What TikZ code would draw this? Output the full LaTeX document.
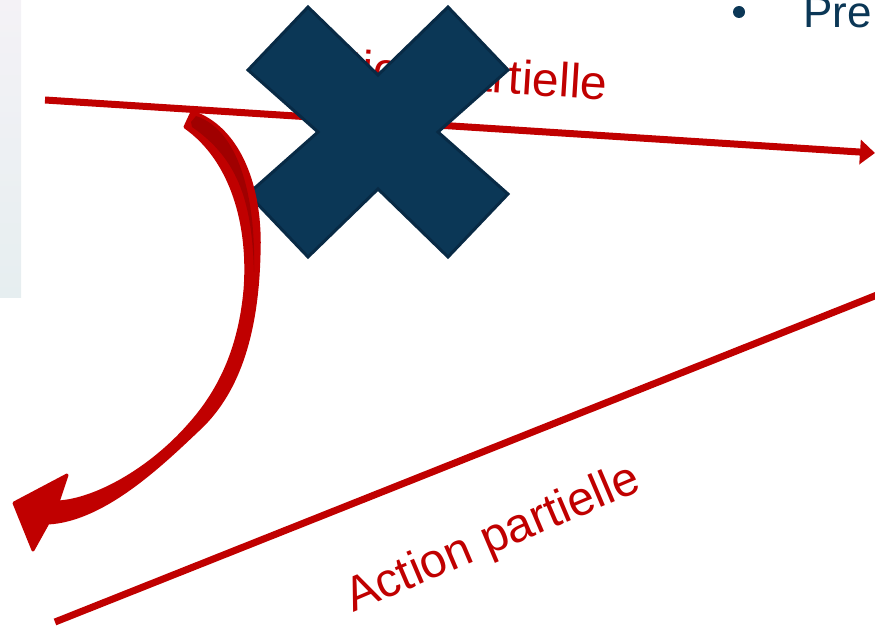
\documentclass[tikz,border=0pt]{standalone}
\usepackage{fontspec}
\setmainfont{Liberation Sans}
\usetikzlibrary{arrows.meta}
\definecolor{ared}{HTML}{C00000}
\definecolor{adark}{HTML}{A00000}
\definecolor{xblue}{HTML}{0B3756}
\definecolor{xedge}{HTML}{082A45}
\definecolor{ptop}{HTML}{F4F2F6}
\definecolor{pbot}{HTML}{E6EEF0}
\tikzset{
  redline/.style={draw=ared, line width=7pt},
  lbl/.style={text=ared, inner sep=0pt, font=\fontsize{48}{57}\selectfont},
  xshape/.style={fill=xblue, draw=xedge, line width=3pt, line join=miter},
  curvy/.style={fill=ared, draw=ared, line width=3pt, line join=round},
}
\begin{document}
\begin{tikzpicture}[x=1pt,y=-1pt]
\useasboundingbox (0,0) rectangle (875,626);
% faded panel on the left
\shade[top color=ptop,bottom color=pbot] (0,0) rectangle (21,297);
% bullet and text at top right
\node[circle, fill=xblue, minimum size=12pt, inner sep=0pt] (bullet) at (739,12) {};
\node[anchor=base west, inner sep=0pt, text=xblue, font=\fontsize{44}{52}\selectfont] (pre) at (803,28) {Pre};
% top line with arrow
\coordinate (t1) at (45,100);
\coordinate (t2) at (875,153);
\draw[redline, -{Triangle[length=15pt,width=24pt]}] (t1) -- (t2);
\node[lbl, anchor=base west, rotate=-3.6] (toptext) at (292,80) {Action partielle};
% bottom line
\coordinate (b1) at (55,622);
\coordinate (b2) at (877,295);
\draw[redline] (b1) -- (b2);
\node[lbl, anchor=base west, rotate=23] (bottext) at (353,613) {Action partielle};
% the cross
\draw[xshape] (308,7) -- (378,75) -- (448,7) -- (508,70) -- (438,132) -- (508,194)
  -- (448,257) -- (378,189) -- (308,257) -- (248,194) -- (318,132) -- (248,70) -- cycle;
% curved block arrow
\path[curvy] (192,112) .. controls (238,127) and (262,185) .. (259,255)
  .. controls (257,330) and (240,390) .. (200,428)
  .. controls (164,462) and (105,520) .. (48,523)
  -- (33,550) -- (14,503) -- (67,475) -- (58,502)
  .. controls (95,500) and (150,470) .. (190,424)
  .. controls (222,388) and (240,345) .. (245,290)
  .. controls (250,225) and (232,160) .. (185,127) -- cycle;
\fill[adark] (191,122) -- (196,116) .. controls (236,129) and (256,190) .. (254,272)
  .. controls (252,205) and (240,160) .. (192,127) -- cycle;
\end{tikzpicture}
\end{document}
